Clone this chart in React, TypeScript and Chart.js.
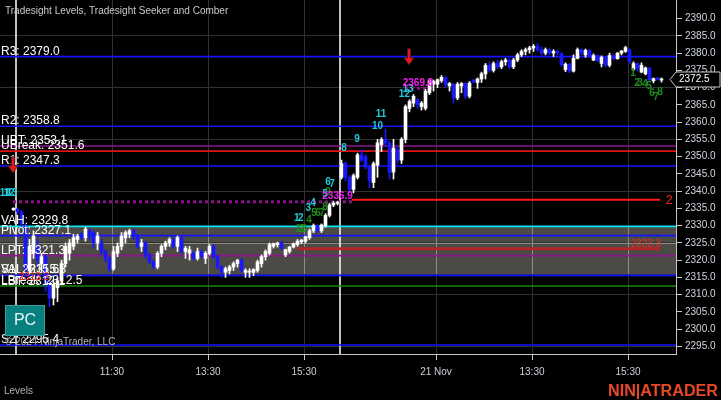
import React, { useEffect, useRef } from "react";
import { Chart, registerables } from "chart.js";
Chart.register(...registerables);

const FONT = '"Liberation Sans", Arial, sans-serif';

// ---- price bars (5-minute); first bar sits in slot firstSlot ----
const firstSlot = 3;
const barOpen = [
  2334.6,
  2334.8, 2334, 2330, 2317, 2322, 2324, 2319, 2321, 2313, 2309, 2312, 2314, 2319, 2322, 2324, 2326,
  2327.5, 2326.5, 2328.5, 2328, 2325, 2325, 2322.5, 2320.5, 2317.5, 2322, 2324, 2326.5, 2327.5, 2328.5, 2327, 2324,
  2325, 2321.5, 2319.5, 2318, 2322, 2324, 2325, 2326, 2324, 2326.5, 2322.5, 2322, 2322, 2320.5, 2322.5, 2320.5,
  2322, 2324, 2321, 2318, 2316.5, 2317, 2318, 2319, 2320, 2316.5, 2316.5, 2316.5, 2317, 2319, 2321, 2322,
  2324, 2324.5, 2325, 2321.5, 2322.5, 2323.8, 2324.5, 2325.3, 2325.5, 2326.5, 2328.5, 2330, 2328.5, 2330, 2333, 2336, 2336.5,
  2344, 2348, 2344, 2340.5, 2344, 2350.5, 2350, 2347, 2342.5, 2347.5, 2353.5, 2355, 2354, 2345.5, 2352, 2349,
  2355, 2364, 2365.5, 2366.5, 2364.5, 2364, 2368.5, 2371, 2371, 2372, 2373, 2370.5, 2371, 2367, 2370.5, 2371.2,
  2367.5, 2372.2, 2371.5, 2372.5, 2374, 2376.5, 2375, 2377, 2376, 2377.5, 2378, 2376, 2378, 2379.5, 2380.5, 2381,
  2381.5, 2382, 2381, 2380, 2381, 2380, 2380.5, 2379.8, 2375.2, 2376.8, 2374.8, 2378.5, 2381, 2379.5, 2380.8, 2378,
  2379.3, 2377, 2378.5, 2376.5, 2379.3, 2378.4, 2380, 2380.5, 2381, 2375.3, 2377, 2374.5, 2374, 2375.7, 2372, 2372.8, 2372.2,
];
const barHigh = [
  2335.2,
  2335, 2334.3, 2330.5, 2326, 2328.5, 2326, 2322, 2322, 2314, 2314.5, 2315, 2320, 2325, 2326, 2327.5, 2327.5,
  2328, 2329.5, 2329, 2328.5, 2328, 2326, 2323, 2321, 2324, 2325, 2328, 2328.5, 2329, 2329, 2327.5, 2326,
  2325.5, 2322, 2320, 2322.5, 2324.5, 2325.5, 2326.5, 2327, 2327, 2327, 2324, 2324, 2322.5, 2323.5, 2323, 2322.5,
  2324.5, 2324.5, 2321.5, 2318.5, 2318, 2318.5, 2319.5, 2320.2, 2320.5, 2317.5, 2317.5, 2317.5, 2320, 2321.5, 2323, 2325,
  2325, 2325.2, 2325.5, 2323.2, 2324, 2325, 2326, 2326, 2327, 2329, 2330.5, 2330.3, 2330.5, 2333.5, 2336.5, 2337, 2337,
  2349, 2348.5, 2344.5, 2345, 2351, 2352, 2350.5, 2347.5, 2348.5, 2355, 2355.5, 2358, 2354.5, 2355, 2353, 2355.5,
  2365, 2366.5, 2368, 2366.8, 2366, 2369.5, 2372.5, 2372.2, 2372.5, 2373.5, 2373.2, 2371.5, 2371.2, 2371.5, 2371.5, 2371.5,
  2371.8, 2372.5, 2372.8, 2374.5, 2377, 2377.5, 2377.5, 2378, 2378, 2378.5, 2378.5, 2378.5, 2380, 2381, 2381.5, 2382,
  2382.5, 2382.8, 2381.8, 2381.5, 2381.5, 2381, 2380.8, 2380.2, 2377.2, 2377, 2379.5, 2381.5, 2381.3, 2381.2, 2381, 2379.8,
  2379.5, 2379.2, 2378.9, 2380, 2379.5, 2380.2, 2380.8, 2382, 2381.2, 2377.5, 2377.2, 2377.2, 2376, 2375.9, 2372.8, 2373, 2372.8,
];
const barLow = [
  2334.4,
  2333.6, 2329.8, 2315, 2316, 2320.5, 2318, 2317, 2311, 2306.5, 2307, 2308, 2313, 2318, 2320, 2323, 2325,
  2326, 2325.5, 2326, 2323.5, 2323, 2321.5, 2319.5, 2316.5, 2317, 2321, 2323, 2325, 2326.5, 2326, 2323.5, 2322.5,
  2320.5, 2319, 2317.5, 2317.5, 2321, 2323, 2324, 2323.5, 2322.5, 2322, 2320.5, 2320, 2320, 2320, 2320.5, 2319,
  2321.5, 2320.5, 2317.5, 2315, 2315, 2316, 2317, 2318, 2316.5, 2315, 2315, 2315.5, 2316.5, 2318, 2320, 2321.5,
  2323.5, 2323.8, 2323, 2321, 2322, 2323.5, 2324, 2324.8, 2325, 2326, 2328, 2328, 2328, 2329.5, 2332.5, 2335.5, 2336,
  2343.5, 2343, 2339.5, 2339.5, 2343.5, 2348.5, 2346.5, 2341, 2341, 2344, 2351.5, 2353, 2343.5, 2343.5, 2348, 2348,
  2354, 2363, 2364.5, 2364, 2363.5, 2363.5, 2368, 2369, 2370, 2371.5, 2370, 2369, 2365.5, 2366.5, 2368.5, 2366.8,
  2367, 2371.3, 2369.8, 2371.5, 2372.5, 2374.5, 2374.5, 2375.5, 2375.5, 2376.5, 2375.5, 2375.5, 2377.5, 2379, 2379.5, 2380,
  2380.5, 2380.5, 2379.5, 2379.5, 2379.5, 2379, 2379.5, 2376.2, 2374.6, 2374.3, 2374.5, 2378.3, 2379.5, 2378.8, 2378.8, 2377.8,
  2377.5, 2376, 2376, 2376, 2378, 2378.2, 2379.5, 2380.2, 2377, 2375, 2374.8, 2374.3, 2373.7, 2371.7, 2371.4, 2372.2, 2371.6,
];
const barClose = [
  2335,
  2334, 2330.5, 2317, 2324, 2327, 2320, 2321, 2313, 2309, 2313, 2314, 2319, 2324, 2325, 2326.5, 2327,
  2326.5, 2329, 2327, 2325, 2327, 2322.5, 2320.5, 2317.5, 2322.5, 2324, 2327, 2328, 2328.5, 2327, 2324, 2325,
  2321.5, 2319.5, 2318, 2322, 2324, 2325, 2326, 2324, 2326.5, 2322.5, 2323.5, 2323, 2320.5, 2322.5, 2321, 2322,
  2324, 2321, 2318, 2316.5, 2317.5, 2318, 2319, 2320, 2317, 2317, 2316.8, 2317.3, 2319.5, 2321, 2322.5, 2324.5,
  2324.8, 2325, 2323.5, 2323, 2323.8, 2324.8, 2325.5, 2325.8, 2326.8, 2328.5, 2330, 2328.5, 2330.2, 2333, 2336, 2336.5, 2336.8,
  2348, 2344, 2340.5, 2344.5, 2350.5, 2349, 2347, 2343, 2348, 2354, 2355, 2354, 2345.5, 2352.5, 2349, 2355,
  2364.5, 2366, 2367.5, 2365, 2365.5, 2369, 2372, 2371.8, 2372.3, 2373, 2370.8, 2371.2, 2367, 2371, 2371.2, 2367.5,
  2371.3, 2371.6, 2372.5, 2374, 2376.5, 2375, 2377, 2376, 2377.5, 2378, 2376, 2378, 2379.5, 2380.5, 2381, 2381.5,
  2382, 2381, 2380, 2381, 2380, 2380.5, 2380.2, 2376.6, 2376.8, 2374.8, 2378.5, 2381, 2380, 2380.8, 2379.2, 2379.3,
  2377.8, 2378.8, 2376.5, 2379.3, 2378.4, 2380, 2380.6, 2381.6, 2377.5, 2377, 2375.5, 2376.5, 2375.7, 2372.3, 2372.6, 2372.4, 2372.5,
];

// ---- axes ----
const xTickSlots = [28, 52, 76, 109, 133, 157];
const xTickLabels = ["11:30", "13:30", "15:30", "21 Nov", "13:30", "15:30"];
const sessionBreakSlots = [4, 85];
const yTickValues = [2295, 2300, 2305, 2310, 2315, 2320, 2325, 2330, 2335, 2340, 2345, 2350, 2355, 2360, 2365, 2370, 2375, 2380, 2385, 2390];

// ---- Tradesight levels ----
const levelNames = ["R3", "R2", "UBT", "UBreak", "R1", "VAH", "Pivot", "LPT", "S1", "VAL", "LBT", "LBreak", "S2"];
const levelValues = [2379.0, 2358.8, 2353.1, 2351.6, 2347.3, 2329.8, 2327.1, 2321.3, 2315.6, 2315.8, 2312.1, 2312.5, 2295.4];
const levelColors = ["#1414ff", "#1414ff", "#8a168a", "#e01010", "#1414ff", "#00e8f0", "#1414ff", "#8a168a", "#1414ff", "", "", "#108a10", "#1414ff"];
const valueAreaHigh = 2329.8;
const valueAreaLow = 2315.8;

// ---- Seeker / Comber counts ----
const cyanText = ["11", "12", "13", "1", "2", "3", "4", "5", "6", "7", "8", "9", "10", "11", "12", "13"];
const cyanSlot = [1.25, 2.25, 3, 74.2, 75.2, 77.1, 78.25, 81.25, 82, 83, 86, 89.25, 94.4, 95.25, 101.1, 102];
const cyanPrice = [2339.5, 2339.5, 2339.3, 2332.0, 2332.0, 2334.9, 2336.4, 2339.2, 2342.7, 2342.0, 2352.5, 2355.1, 2358.8, 2362.2, 2368.2, 2369.5];
const greenText = ["1", "2", "3", "4", "5", "6", "7", "8", "9", "1", "2", "3", "4", "5", "6", "7", "8"];
const greenSlot = [74.5, 75.4, 76.1, 77.25, 78.5, 79.5, 80.5, 81.25, 82, 158.25, 159.25, 160, 161.25, 162.25, 163, 164, 165];
const greenPrice = [2328.9, 2328.9, 2328.9, 2331.7, 2333.7, 2333.7, 2333.7, 2335.4, 2339.8, 2374.3, 2371.4, 2371.4, 2371.1, 2370.5, 2368.5, 2367.3, 2368.8];

// seeker targets (magenta dotted)
const seekerValues = [2336.9, 2369.8];
const seekerFrom = [3.25, 101.25];
const seekerTo = [88, 108];
const seekerLabelSlot = [84.4, 104.5];
const seekerLabelPrice = [2338.6, 2371.4];

// signal arrows
const arrowSlot = [3.25, 102.25];
const arrowTipPrice = [2345.3, 2376.6];

// comber lines
const comberValues = [2337.5, 2323.3];
const comberFrom = [88, 74.25];
const comberTo = [165, 165];
const comberColors = ["#ff1a1a", "rgb(178,38,38)"];
const comberWidths = [2, 3];
const redLabels = ["2", "2323.3", "2313.3"];
const redLabelSlot = [167.3, 161.5, 8.5];
const redLabelPrice = [2337.2, 2324.7, 2314.9];
const redLabelSize = [13, 10, 10];

export default function App() {
  const ref = useRef<HTMLCanvasElement>(null);

  useEffect(() => {
    const wickData = barOpen.map((_, i) => ({ x: firstSlot + i + 0.375, y: [barLow[i], barHigh[i]] }));
    const bodyData = barOpen.map((o, i) => ({ x: firstSlot + i + 0.375, y: [o, barClose[i]] }));
    const colors = barOpen.map((o, i) => (barClose[i] >= o ? "#ffffff" : "#1818ff"));

    const overlay = {
      id: "overlay",
      beforeDraw(chart: any) {
        const { ctx, chartArea: a, scales } = chart;
        const y = scales.y;
        ctx.save();
        ctx.fillStyle = "#000";
        ctx.fillRect(0, 0, chart.width, chart.height);
        const t = y.getPixelForValue(valueAreaHigh);
        const b = y.getPixelForValue(valueAreaLow);
        ctx.fillStyle = "rgb(76,74,68)";
        ctx.fillRect(a.left, t, a.right - a.left, b - t);
        ctx.restore();
      },
      beforeDatasetsDraw(chart: any) {
        const { ctx, chartArea: a, scales } = chart;
        const x = scales.x, y = scales.y;
        ctx.save();
        ctx.beginPath();
        ctx.rect(a.left, a.top, a.right - a.left, a.bottom - a.top);
        ctx.clip();
        // lighter grid inside value area
        const t = y.getPixelForValue(valueAreaHigh);
        const b = y.getPixelForValue(valueAreaLow);
        ctx.save();
        ctx.beginPath();
        ctx.rect(a.left, t, a.right - a.left, b - t);
        ctx.clip();
        ctx.strokeStyle = "rgba(150,150,145,0.9)";
        ctx.lineWidth = 1;
        xTickSlots.forEach((s) => {
          const px = Math.round(x.getPixelForValue(s)) + 0.5;
          ctx.beginPath(); ctx.moveTo(px, t); ctx.lineTo(px, b); ctx.stroke();
        });
        yTickValues.filter((v) => v % 15 === 0).forEach((v) => {
          const py = Math.round(y.getPixelForValue(v)) + 0.5;
          ctx.beginPath(); ctx.moveTo(a.left, py); ctx.lineTo(a.right, py); ctx.stroke();
        });
        ctx.restore();
        // session breaks
        ctx.strokeStyle = "#ffffff";
        ctx.lineWidth = 1.5;
        sessionBreakSlots.forEach((s) => {
          const px = x.getPixelForValue(s);
          ctx.beginPath(); ctx.moveTo(px, a.top); ctx.lineTo(px, a.bottom); ctx.stroke();
        });
        // levels
        levelValues.forEach((v, i) => {
          if (!levelColors[i]) return;
          const py = y.getPixelForValue(v);
          ctx.strokeStyle = levelColors[i];
          ctx.lineWidth = 1.6;
          ctx.beginPath(); ctx.moveTo(a.left, py); ctx.lineTo(a.right, py); ctx.stroke();
        });
        // comber lines
        comberValues.forEach((v, i) => {
          const py = y.getPixelForValue(v);
          ctx.strokeStyle = comberColors[i];
          ctx.lineWidth = comberWidths[i];
          ctx.beginPath();
          ctx.moveTo(x.getPixelForValue(comberFrom[i]), py);
          ctx.lineTo(x.getPixelForValue(comberTo[i]), py);
          ctx.stroke();
        });
        // seeker dotted lines
        ctx.setLineDash([3, 3]);
        ctx.lineWidth = 3;
        ctx.strokeStyle = "#8c108c";
        seekerValues.forEach((v, i) => {
          const py = y.getPixelForValue(v);
          ctx.beginPath();
          ctx.moveTo(x.getPixelForValue(seekerFrom[i]), py);
          ctx.lineTo(x.getPixelForValue(seekerTo[i]), py);
          ctx.stroke();
        });
        ctx.setLineDash([]);
        ctx.restore();
      },
      afterDatasetsDraw(chart: any) {
        const { ctx, scales } = chart;
        const x = scales.x, y = scales.y;
        ctx.save();
        // level labels
        ctx.font = `12px ${FONT}`;
        ctx.fillStyle = "#ffffff";
        ctx.textAlign = "left";
        ctx.textBaseline = "alphabetic";
        levelNames.forEach((n, i) => {
          ctx.fillText(`${n}: ${levelValues[i].toFixed(1)}`, 1, y.getPixelForValue(levelValues[i]) - 2);
        });
        // counts
        ctx.textAlign = "center";
        ctx.textBaseline = "middle";
        ctx.font = `bold 10px ${FONT}`;
        ctx.fillStyle = "#1e8c1e";
        greenText.forEach((t, i) => ctx.fillText(t, x.getPixelForValue(greenSlot[i]), y.getPixelForValue(greenPrice[i])));
        ctx.fillStyle = "#22c8d8";
        cyanText.forEach((t, i) => ctx.fillText(t, x.getPixelForValue(cyanSlot[i]), y.getPixelForValue(cyanPrice[i])));
        // seeker labels
        ctx.fillStyle = "#f020f0";
        seekerValues.forEach((v, i) =>
          ctx.fillText(v.toFixed(1), x.getPixelForValue(seekerLabelSlot[i]), y.getPixelForValue(seekerLabelPrice[i]))
        );
        // red labels
        ctx.fillStyle = "#ee2a1e";
        redLabels.forEach((t, i) => {
          ctx.font = `${redLabelSize[i]}px ${FONT}`;
          ctx.fillText(t, x.getPixelForValue(redLabelSlot[i]), y.getPixelForValue(redLabelPrice[i]));
        });
        // arrows
        arrowSlot.forEach((s, i) => {
          const cx = x.getPixelForValue(s);
          const tip = y.getPixelForValue(arrowTipPrice[i]);
          ctx.beginPath();
          ctx.moveTo(cx - 1.5, tip - 16);
          ctx.lineTo(cx + 1.5, tip - 16);
          ctx.lineTo(cx + 1.5, tip - 7);
          ctx.lineTo(cx + 5, tip - 7);
          ctx.lineTo(cx, tip);
          ctx.lineTo(cx - 5, tip - 7);
          ctx.lineTo(cx - 1.5, tip - 7);
          ctx.closePath();
          ctx.fillStyle = "#e81818";
          ctx.fill();
          ctx.strokeStyle = "rgba(90,20,20,0.9)";
          ctx.lineWidth = 1;
          ctx.stroke();
        });
        ctx.restore();
      },
      afterDraw(chart: any) {
        const { ctx, chartArea: a, scales } = chart;
        const y = scales.y;
        ctx.save();
        // title
        ctx.font = `10px ${FONT}`;
        ctx.fillStyle = "#c8c8c8";
        ctx.textAlign = "left";
        ctx.textBaseline = "alphabetic";
        ctx.fillText("Tradesight Levels, Tradesight Seeker and Comber", 5, 14);
        // copyright
        ctx.fillStyle = "#b4b4b4";
        ctx.fillText("\u00a9 2024 NinjaTrader, LLC", 5, 345);
        // panel name
        ctx.fillText("Levels", 4, 394);
        // PC box
        ctx.fillStyle = "rgb(8,128,128)";
        ctx.fillRect(5, 305, 40, 31);
        ctx.strokeStyle = "rgb(60,160,160)";
        ctx.lineWidth = 1;
        ctx.strokeRect(5.5, 305.5, 39, 30);
        ctx.fillStyle = "#e8f4f4";
        ctx.font = `16px ${FONT}`;
        ctx.textAlign = "center";
        ctx.textBaseline = "middle";
        ctx.fillText("PC", 25, 321);
        // last price tag
        const last = barClose[barClose.length - 1];
        const py = Math.round(y.getPixelForValue(last)) + 0.5;
        ctx.beginPath();
        ctx.moveTo(a.right - 6, py);
        ctx.lineTo(a.right, py - 7.5);
        ctx.lineTo(720, py - 7.5);
        ctx.lineTo(720, py + 7.5);
        ctx.lineTo(a.right, py + 7.5);
        ctx.closePath();
        ctx.fillStyle = "#000";
        ctx.fill();
        ctx.strokeStyle = "#c8c8c8";
        ctx.stroke();
        ctx.fillStyle = "#ffffff";
        ctx.font = `10px ${FONT}`;
        ctx.textAlign = "left";
        ctx.fillText(last.toFixed(1), a.right + 3, py);
        // logo
        ctx.font = `bold 16px ${FONT}`;
        ctx.textBaseline = "alphabetic";
        const logo = "NIN|ATRADER";
        const w = ctx.measureText(logo).width;
        ctx.translate(608, 396);
        ctx.scale(110 / w, 1);
        ctx.fillStyle = "rgb(232,72,40)";
        ctx.fillText(logo, 0, 0);
        ctx.restore();
      },
    };

    const chart = new Chart(ref.current as HTMLCanvasElement, {
      type: "bar",
      data: {
        datasets: [
          {
            data: wickData as any,
            backgroundColor: colors,
            barThickness: 1,
            grouped: false,
            borderWidth: 0,
            order: 2,
          } as any,
          {
            data: bodyData as any,
            backgroundColor: colors,
            barThickness: 3,
            grouped: false,
            borderWidth: 0,
            minBarLength: 1,
            order: 1,
          } as any,
        ],
      },
      options: {
        animation: false,
        responsive: false,
        devicePixelRatio: 1,
        layout: { padding: 0 },
        plugins: { legend: { display: false }, tooltip: { enabled: false } },
        scales: {
          x: {
            type: "linear",
            min: 0,
            max: 169,
            offset: false,
            position: "bottom",
            afterBuildTicks: (s: any) => {
              s.ticks = xTickSlots.map((v) => ({ value: v }));
            },
            afterFit: (s: any) => {
              s.height = 46;
              s.paddingLeft = 0;
              s.paddingRight = 0;
            },
            grid: { color: "#303030", tickColor: "#c8c8c8", tickLength: 6, offset: false, lineWidth: 1 },
            border: { display: true, color: "#c8c8c8", width: 1 },
            ticks: {
              autoSkip: false,
              maxRotation: 0,
              padding: 6,
              color: "#cdd0d8",
              font: { family: FONT, size: 10 },
              callback: (v: any) => {
                const k = xTickSlots.indexOf(Number(v));
                return k >= 0 ? xTickLabels[k] : "";
              },
            },
          },
          y: {
            type: "linear",
            position: "right",
            min: 2292.8,
            max: 2395.4,
            afterBuildTicks: (s: any) => {
              s.ticks = yTickValues.map((v) => ({ value: v }));
            },
            afterFit: (s: any) => {
              s.width = 45;
              s.paddingTop = 0;
              s.paddingBottom = 0;
            },
            grid: {
              color: (c: any) => (c.tick && c.tick.value % 15 === 0 ? "#303030" : "rgba(0,0,0,0)"),
              tickColor: "#c8c8c8",
              tickLength: 6,
              lineWidth: 1,
            },
            border: { display: true, color: "#c8c8c8", width: 1 },
            ticks: {
              padding: 3,
              color: "#d2d6e0",
              font: { family: FONT, size: 10 },
              callback: (v: any) => Number(v).toFixed(1),
            },
          },
        },
      },
      plugins: [overlay],
    });
    return () => chart.destroy();
  }, []);

  return (
    <div style={{ position: "fixed", left: 0, top: 0, width: 721, height: 400, background: "#000" }}>
      <canvas ref={ref} width={721} height={400} style={{ display: "block" }} />
    </div>
  );
}
